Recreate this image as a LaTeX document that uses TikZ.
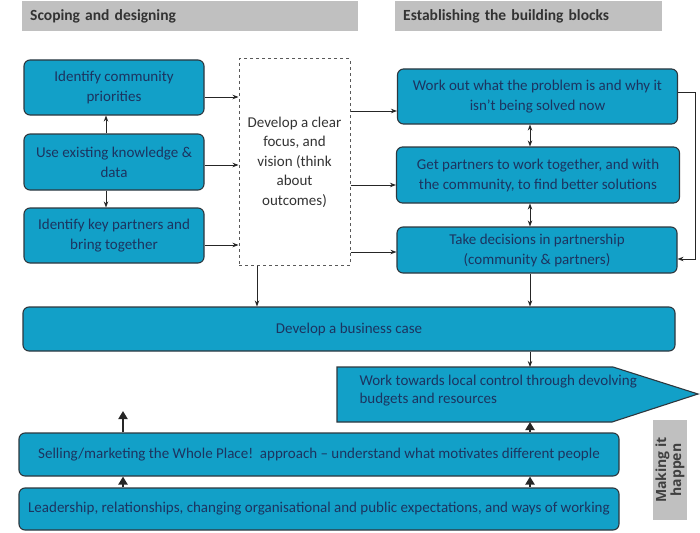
\documentclass[tikz,border=0pt]{standalone}
\usepackage{fontspec}
\setmainfont{Carlito}
\newfontfamily\sidefont{Open Sans}
\usetikzlibrary{arrows.meta}
\definecolor{boxfill}{RGB}{18,160,200}
\definecolor{boxtext}{RGB}{28,52,96}
\definecolor{boxline}{RGB}{45,55,62}
\definecolor{headfill}{RGB}{192,192,192}

\begin{document}
\begin{tikzpicture}[x=1pt,y=-1pt,
	boxcol/.style={draw=boxline,fill=boxfill,line width=1.1pt},
	box/.style={boxcol,rounded corners=6pt,text=boxtext,align=center,inner sep=0pt,font=\fontsize{15}{20}\selectfont},
	head/.style={fill=headfill,anchor=west,align=left,inner xsep=8pt,minimum height=30,font=\bfseries\fontsize{15.5}{17}\selectfont,text=black!80},
	arr/.style={-{Stealth[length=6pt,width=4.5pt]},line width=0.8pt,draw=black!85},
	dbl/.style={{Stealth[length=6pt,width=4.5pt]}-{Stealth[length=6pt,width=4.5pt]},line width=0.8pt,draw=black!85},
	thk/.style={-{Triangle[length=8pt,width=9pt]},line width=2.8pt,draw=black!85}]
		\useasboundingbox (0,0) rectangle (700,532);

		% headings
		\node (sd) at (22,16) [head,text width=320] {Scoping and designing};
		\node (eb) at (395,16) [head,text width=251] {Establishing the building blocks};

		% scoping
		\node (b1) at (114,87.5) [box,minimum width=180,minimum height=55] {Identify community\\priorities};
		\node (b2) at (114,162) [box,minimum width=180,minimum height=56] {Use existing knowledge \&\\data};
		\node (b3) at (114,235.5) [box,minimum width=180,minimum height=55] {Identify key partners and\\bring together};
		\node (dv) at (294.5,162) [draw=black!65,dashed,line width=1pt,minimum width=111,minimum height=206,align=center,text=black!80,font=\fontsize{15}{19.5}\selectfont] {Develop a clear\\focus, and\\vision (think\\about\\outcomes)};

		% building blocks
		\node (r1) at (537.5,96.5) [box,minimum width=280,minimum height=55] {Work out what the problem is and why it\\isn't being solved now};
		\node (r2) at (538,175) [box,minimum width=283,minimum height=56] {Get partners to work together, and with\\the community, to find better solutions};
		\node (r3) at (537,250) [box,minimum width=280,minimum height=46] {Take decisions in partnership\\(community \& partners)};

		% making it happen
		\node (bc) at (349,329) [box,minimum width=652,minimum height=44] {Develop a business case};
		\draw [boxcol] (337,367) -- (613,367) -- (698,394) -- (612,422) -- (337,422) -- cycle;
		\node (wt) at (356,391) [anchor=west,align=left,text=boxtext,font=\fontsize{15}{18}\selectfont] {Work towards local control through devolving\\budgets and resources};
		\node (sl) at (319,454.5) [box,minimum width=600,minimum height=43] {Selling/marketing the Whole Place!\ \ approach -- understand what motivates different people};
		\node (ld) at (319,509) [box,minimum width=600,minimum height=42] {Leadership, relationships, changing organisational and public expectations, and ways of working};
		\node (mk) at (670,470) [fill=headfill,minimum width=100,minimum height=34,inner sep=1pt,rotate=90,align=center,text=black!75,font=\sidefont\bfseries\fontsize{14}{13.5}\selectfont] {Making it\\happen};

		\coordinate (lc) at (106,0);
		\coordinate (dc) at (257,0);
		\coordinate (rc) at (530,0);
		\coordinate (y1) at (0,97);
		\coordinate (y2) at (0,165);
		\coordinate (y3) at (0,245);
		\coordinate (y4) at (0,111);
		\coordinate (y5) at (0,185);
		\coordinate (y6) at (0,252);
		\coordinate (lp) at (695,92);
		\coordinate (lq) at (695,259);
		\coordinate (wtn) at (530,367);
		\coordinate (wts) at (530,422);
		\coordinate (up) at (123,411);

		\draw [arr] (b2.north -| lc) -- (b1.south -| lc);
		\draw [arr] (b2.south -| lc) -- (b3.north -| lc);
		\draw [arr] (b1.east |- y1) -- (dv.west |- y1);
		\draw [arr] (b2.east |- y2) -- (dv.west |- y2);
		\draw [arr] (b3.east |- y3) -- (dv.west |- y3);
		\draw [arr] (dv.east |- y4) -- (r1.west |- y4);
		\draw [arr] (dv.east |- y5) -- (r2.west |- y5);
		\draw [arr] (dv.east |- y6) -- (r3.west |- y6);
		\draw [dbl] (r1.south -| rc) -- (r2.north -| rc);
		\draw [dbl] (r2.south -| rc) -- (r3.north -| rc);
		\draw [arr] (r1.east |- lp) -- (lp) -- (lq) -- (r3.east |- lq);
		\draw [arr] (dv.south -| dc) -- (bc.north -| dc);
		\draw [arr] (r3.south -| rc) -- (bc.north -| rc);
		\draw [arr] (bc.south -| rc) -- (wtn);

		\draw [thk] (sl.north -| up) -- (up);
		\draw [thk] (ld.north -| up) -- (sl.south -| up);
		\draw [thk] (sl.north -| rc) -- (wts);
		\draw [thk] (ld.north -| rc) -- (sl.south -| rc);
	\end{tikzpicture}
\end{document}
